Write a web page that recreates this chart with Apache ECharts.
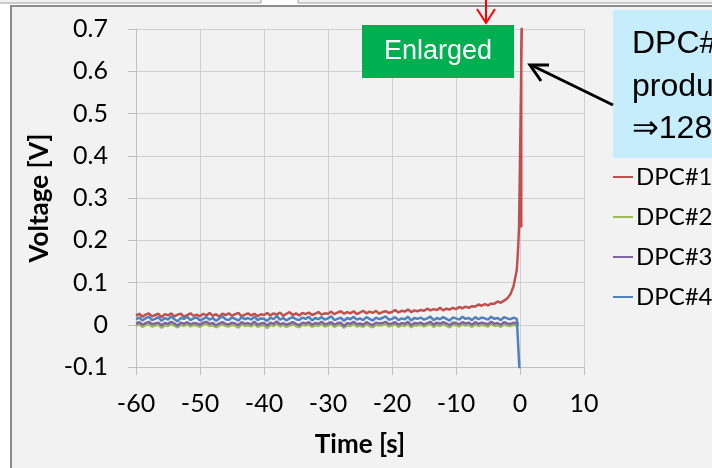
<!DOCTYPE html>
<html><head><meta charset="utf-8">
<script src="https://cdn.jsdelivr.net/npm/echarts@6/dist/echarts.min.js"></script>
<style>html,body{margin:0;padding:0;background:#fff;}#c{width:712px;height:468px;}</style>
</head><body><div id="c"></div>
<script>
// time axis samples (s)
var time = [-60,-59.5,-59,-58.5,-58,-57.5,-57,-56.5,-56,-55.5,-55,-54.5,-54,-53.5,-53,-52.5,-52,-51.5,-51,-50.5,
-50,-49.5,-49,-48.5,-48,-47.5,-47,-46.5,-46,-45.5,-45,-44.5,-44,-43.5,-43,-42.5,-42,-41.5,-41,-40.5,
-40,-39.5,-39,-38.5,-38,-37.5,-37,-36.5,-36,-35.5,-35,-34.5,-34,-33.5,-33,-32.5,-32,-31.5,-31,-30.5,
-30,-29.5,-29,-28.5,-28,-27.5,-27,-26.5,-26,-25.5,-25,-24.5,-24,-23.5,-23,-22.5,-22,-21.5,-21,-20.5,
-20,-19.5,-19,-18.5,-18,-17.5,-17,-16.5,-16,-15.5,-15,-14.5,-14,-13.5,-13,-12.5,-12,-11.5,-11,-10.5,
-10,-9.5,-9,-8.5,-8,-7.5,-7,-6.5,-6,-5.5,-5,-4.5,-4,-3.5,-3,-2.5,-2,-1.5,-1,-0.5];

var seriesNames = ['DPC#1','DPC#2','DPC#3','DPC#4'];
var xTicks = [-60,-50,-40,-30,-20,-10,0,10];
var yTicks = [-0.1,0,0.1,0.2,0.3,0.4,0.5,0.6,0.7];

var dpc1 = [0.021,0.026,0.019,0.024,0.027,0.020,0.023,0.026,0.018,0.025,
0.022,0.027,0.020,0.024,0.026,0.019,0.023,0.027,0.021,0.024,
0.020,0.026,0.022,0.028,0.021,0.025,0.019,0.026,0.023,0.027,
0.021,0.025,0.028,0.020,0.024,0.027,0.022,0.026,0.020,0.025,
0.023,0.028,0.022,0.027,0.024,0.029,0.021,0.026,0.030,0.023,
0.027,0.022,0.028,0.025,0.029,0.023,0.026,0.030,0.024,0.027,
0.026,0.031,0.025,0.029,0.032,0.026,0.030,0.027,0.032,0.025,
0.029,0.033,0.027,0.031,0.028,0.033,0.026,0.030,0.032,0.028,
0.030,0.035,0.029,0.033,0.031,0.036,0.030,0.034,0.032,0.035,
0.033,0.038,0.034,0.037,0.035,0.040,0.034,0.038,0.036,0.040,
0.037,0.042,0.039,0.043,0.040,0.044,0.043,0.048,0.045,0.049,
0.046,0.050,0.050,0.055,0.052,0.057,0.062,0.072,0.092,0.130];
var dpc1TailTime = [-0.3,-0.15,0.1,0.35,0.2,0.2];
var dpc1TailVal  = [0.18,0.23,0.5,0.78,0.65,0.23];

var dpc2 = [-0.002,0.001,-0.005,-0.001,0.002,-0.004,-0.002,0.000,-0.007,-0.001,
-0.003,0.002,-0.002,-0.006,0.000,-0.003,0.001,-0.004,-0.001,-0.002,
-0.005,0.000,0.002,-0.003,-0.001,-0.006,-0.002,0.001,-0.003,-0.004,
0.000,-0.002,-0.007,0.001,-0.003,-0.001,-0.004,0.002,-0.005,-0.002,
-0.001,-0.008,0.000,-0.003,0.003,-0.004,-0.001,-0.005,-0.002,0.001,
-0.003,-0.006,0.000,-0.002,0.001,-0.005,-0.001,-0.003,0.002,-0.004,
-0.002,0.001,-0.005,-0.001,0.000,-0.007,-0.001,-0.003,0.002,-0.004,
-0.002,-0.005,0.001,-0.003,-0.006,0.000,-0.002,-0.001,0.002,-0.004,
-0.002,0.001,-0.005,-0.001,-0.003,0.002,-0.006,-0.001,-0.002,0.000,
-0.004,-0.001,0.002,-0.005,0.000,-0.003,0.001,-0.002,-0.006,0.000,
-0.001,-0.004,0.001,-0.002,0.000,-0.005,0.001,-0.003,0.000,-0.002,
-0.004,0.002,-0.003,-0.001,-0.005,0.001,-0.002,-0.003,0.000,-0.002];
var dpc2TailTime = [-0.2];
var dpc2TailVal  = [-0.002];

var dpc3 = [0.003,0.006,0.000,0.004,0.007,0.001,0.003,0.005,-0.001,0.004,
0.002,0.007,0.003,-0.002,0.005,0.002,0.006,0.001,0.004,0.003,
0.000,0.005,0.007,0.002,0.004,-0.001,0.003,0.006,0.002,0.001,
0.005,0.003,-0.001,0.006,0.002,0.004,0.001,0.007,0.000,0.003,
0.004,-0.002,0.005,0.002,0.008,0.001,0.004,0.000,0.003,0.006,
0.002,-0.001,0.005,0.003,0.006,0.000,0.004,0.002,0.007,0.001,
0.003,0.006,0.000,0.004,0.005,-0.003,0.004,0.002,0.007,0.001,
0.003,0.000,0.006,0.002,-0.001,0.005,0.003,0.004,0.007,0.001,
0.003,0.006,0.000,0.004,0.002,0.007,-0.001,0.004,0.003,0.005,
0.001,0.004,0.007,0.000,0.005,0.002,0.006,0.003,-0.001,0.005,
0.004,0.001,0.006,0.003,0.005,0.000,0.006,0.002,0.005,0.003,
0.001,0.007,0.002,0.004,0.000,0.006,0.003,0.002,0.005,0.003];
var dpc3TailTime = [-0.2];
var dpc3TailVal  = [0.003];

var dpc4 = [0.013,0.017,0.010,0.015,0.019,0.011,0.014,0.018,0.009,0.016,
0.012,0.020,0.013,0.008,0.016,0.014,0.019,0.011,0.015,0.017,
0.010,0.014,0.018,0.012,0.016,0.009,0.015,0.020,0.013,0.011,
0.017,0.014,0.010,0.018,0.013,0.016,0.012,0.019,0.011,0.015,
0.014,0.009,0.017,0.013,0.021,0.012,0.016,0.010,0.015,0.018,
0.013,0.011,0.017,0.014,0.019,0.010,0.016,0.013,0.018,0.012,
0.015,0.020,0.011,0.014,0.017,0.009,0.016,0.013,0.019,0.012,
0.015,0.011,0.018,0.014,0.010,0.017,0.013,0.016,0.020,0.012,
0.014,0.018,0.011,0.015,0.013,0.019,0.010,0.016,0.014,0.017,
0.012,0.015,0.019,0.011,0.016,0.013,0.018,0.014,0.010,0.017,
0.015,0.012,0.019,0.014,0.016,0.011,0.018,0.013,0.017,0.015,
0.012,0.019,0.014,0.016,0.011,0.018,0.015,0.013,0.017,0.014];
var dpc4TailTime = [-0.2,0.0];
var dpc4TailVal  = [0.012,-0.13];

var colors = ['#c0504d','#9bbb59','#8064a2','#4f81bd'];

function build(vals, tt, tv){
  var d = time.map(function(t,i){return [t, vals[i]];});
  for (var k=0;k<tt.length;k++) d.push([tt[k], tv[k]]);
  return d;
}
var data = [build(dpc1,dpc1TailTime,dpc1TailVal), build(dpc2,dpc2TailTime,dpc2TailVal),
            build(dpc3,dpc3TailTime,dpc3TailVal), build(dpc4,dpc4TailTime,dpc4TailVal)];

var chart = echarts.init(document.getElementById('c'), null, {renderer:'canvas'});
var FONT = 'Lato, "Open Sans", sans-serif';
var ARIAL = '"Liberation Sans", "DejaVu Sans", Arial, sans-serif';

chart.setOption({
  animation:false,
  backgroundColor:'#f2f2f2',
  color: colors,
  grid:{left:136, right:128, top:29, bottom:101, containLabel:false},
  xAxis:{type:'value', min:xTicks[0], max:xTicks[xTicks.length-1], interval:10,
    name:'Time [s]', nameLocation:'middle', nameGap:65,
    nameTextStyle:{fontFamily:FONT, fontWeight:'bold', fontSize:26, color:'#000'},
    axisLine:{show:true, onZero:false, lineStyle:{color:'#bfbfbf', width:1}},
    axisTick:{show:true, length:8, lineStyle:{color:'#bfbfbf'}},
    axisLabel:{margin:24, fontFamily:FONT, fontSize:25, color:'#000'},
    splitLine:{show:true, lineStyle:{color:'#d0d0d0', width:1}}},
  yAxis:{type:'value', min:yTicks[0], max:yTicks[yTicks.length-1], interval:0.1,
    name:'Voltage [V]', nameLocation:'middle', nameGap:78, nameRotate:90,
    nameTextStyle:{fontFamily:FONT, fontWeight:'bold', fontSize:26, color:'#000'},
    axisLine:{show:true, onZero:false, lineStyle:{color:'#bfbfbf', width:1}},
    axisTick:{show:true, length:8, lineStyle:{color:'#bfbfbf'}},
    axisLabel:{margin:28, fontFamily:FONT, fontSize:25, color:'#000',
      formatter:function(v){return String(Number(v.toFixed(1)));}},
    splitLine:{show:true, lineStyle:{color:'#d0d0d0', width:1}}},
  legend:{orient:'vertical', left:613, top:165, padding:0, itemGap:16, itemWidth:20, itemHeight:2,
    icon:'rect', data:seriesNames, itemStyle:{borderWidth:0}, lineStyle:{width:0},
    textStyle:{fontFamily:FONT, fontSize:24, color:'#000', padding:[0,0,0,-2]}},
  series: seriesNames.map(function(n,i){
    return {name:n, type:'line', data:data[i], showSymbol:false, symbol:'none',
      lineStyle:{width:2.5, color:colors[i]}, itemStyle:{color:colors[i]}, clip:true, z:2+i};
  }),
  graphic:[
    {type:'rect', shape:{x:0,y:0,width:712,height:5}, style:{fill:'#ffffff'}, z:50, silent:true},
    {type:'rect', shape:{x:0,y:0,width:10,height:468}, style:{fill:'#ffffff'}, z:50, silent:true},
    {type:'rect', shape:{x:-2,y:-5,width:263,height:8}, style:{fill:'#f0f0f0', stroke:'#a0a0a0', lineWidth:1}, z:51, silent:true},
    {type:'rect', shape:{x:298,y:-5,width:420,height:8}, style:{fill:'#f0f0f0', stroke:'#a0a0a0', lineWidth:1}, z:51, silent:true},
    {type:'polyline', shape:{points:[[11,470],[11,6],[714,6]]}, style:{stroke:'#8c8c8c', lineWidth:2, fill:null}, z:52, silent:true},
    {type:'rect', shape:{x:613,y:10,width:110,height:148}, style:{fill:'#c5edfc'}, z:60, silent:true},
    {type:'text', x:632, y:44, style:{text:'DPC#1', font:'32px '+ARIAL, fill:'#000', textVerticalAlign:'middle'}, z:61, silent:true},
    {type:'text', x:632, y:87, style:{text:'produces', font:'32px '+ARIAL, fill:'#000', textVerticalAlign:'middle'}, z:61, silent:true},
    {type:'text', x:632, y:129, style:{text:'\u21D2128', font:'32px '+ARIAL, fill:'#000', textVerticalAlign:'middle'}, z:61, silent:true},
    {type:'rect', shape:{x:362,y:25,width:152,height:53}, style:{fill:'#00b050'}, z:60, silent:true},
    {type:'text', x:438, y:52, style:{text:'Enlarged', font:'27px '+ARIAL, fill:'#ffffff', textAlign:'center', textVerticalAlign:'middle'}, z:61, silent:true},
    {type:'line', shape:{x1:486,y1:0,x2:486,y2:23}, style:{stroke:'#ff0000', lineWidth:2}, z:61, silent:true},
    {type:'polyline', shape:{points:[[477,9],[486,23],[495,9]]}, style:{stroke:'#ff0000', lineWidth:2, fill:null}, z:61, silent:true},
    {type:'line', shape:{x1:613,y1:105,x2:531,y2:65}, style:{stroke:'#000', lineWidth:3}, z:61, silent:true},
    {type:'polyline', shape:{points:[[541,81],[530,65],[549,65]]}, style:{stroke:'#000', lineWidth:3, fill:null}, z:61, silent:true}
  ]
});
</script>
</body></html>
